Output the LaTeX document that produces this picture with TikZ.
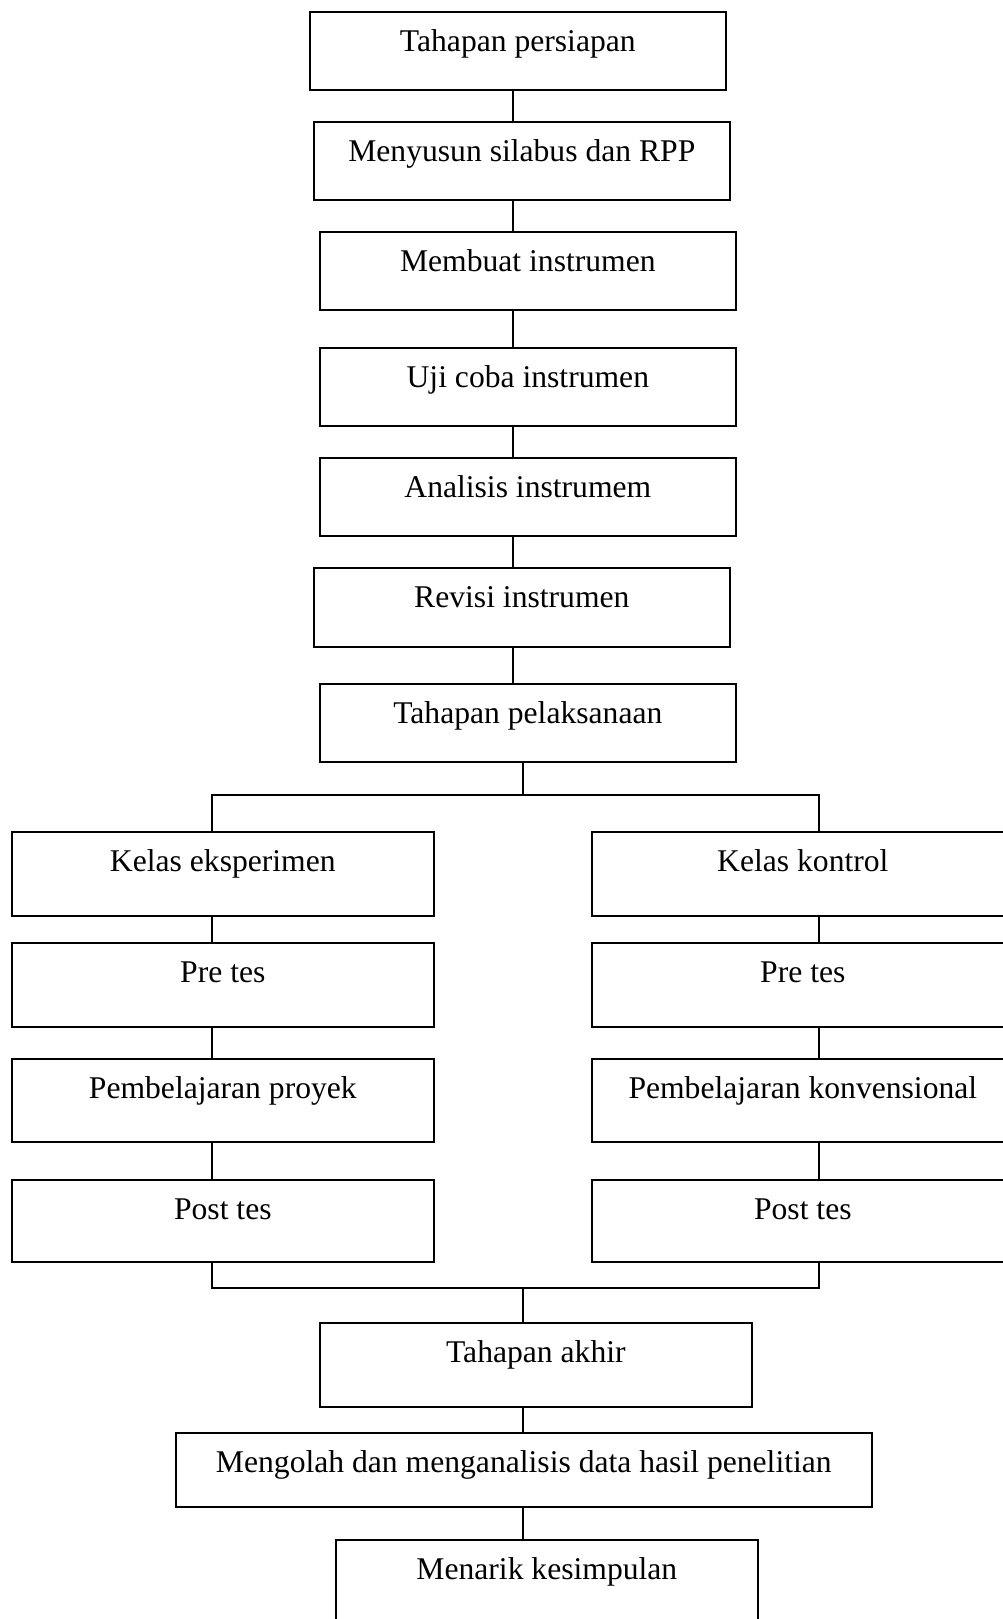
\documentclass[tikz,border=0pt]{standalone}
\usepackage{fontspec}
\setmainfont{Liberation Serif}
\tikzset{
  stage/.style={draw, line width=1pt, anchor=north west, inner sep=0pt,
    text height=0.8cm, font=\fontsize{18}{22}\selectfont},
  link/.style={line width=1pt}
}
\begin{document}
\begin{tikzpicture}[x=0.02cm, y=-0.02cm]
\useasboundingbox (0,0) rectangle (1003,1619);
\clip (0,0) rectangle (1003,1619);
% tahapan persiapan
\node[stage, minimum width=8.32cm, text depth=0.76cm] (persiapan) at (309,11) {Tahapan persiapan};
\node[stage, minimum width=8.32cm, text depth=0.76cm] (silabus) at (313,121) {Menyusun silabus dan RPP};
\node[stage, minimum width=8.32cm, text depth=0.76cm] (membuat) at (319,231) {Membuat instrumen};
\node[stage, minimum width=8.32cm, text depth=0.76cm] (ujicoba) at (319,347) {Uji coba instrumen};
\node[stage, minimum width=8.32cm, text depth=0.76cm] (analisis) at (319,457) {Analisis instrumem};
\node[stage, minimum width=8.32cm, text depth=0.78cm] (revisi) at (313,567) {Revisi instrumen};
\node[stage, minimum width=8.32cm, text depth=0.76cm] (pelaksanaan) at (319,683) {Tahapan pelaksanaan};
\coordinate (spine) at (513,0);
\draw[link] (persiapan.south -| spine) -- (silabus.north -| spine);
\draw[link] (silabus.south -| spine) -- (membuat.north -| spine);
\draw[link] (membuat.south -| spine) -- (ujicoba.north -| spine);
\draw[link] (ujicoba.south -| spine) -- (analisis.north -| spine);
\draw[link] (analisis.south -| spine) -- (revisi.north -| spine);
\draw[link] (revisi.south -| spine) -- (pelaksanaan.north -| spine);
% kelas eksperimen dan kelas kontrol
\node[stage, minimum width=8.44cm, text depth=0.88cm] (eksp) at (11,831) {Kelas eksperimen};
\node[stage, minimum width=8.44cm, text depth=0.88cm] (kontrol) at (591,831) {Kelas kontrol};
\node[stage, minimum width=8.44cm, text depth=0.88cm] (preA) at (11,942) {Pre tes};
\node[stage, minimum width=8.44cm, text depth=0.88cm] (preB) at (591,942) {Pre tes};
\node[stage, minimum width=8.44cm, text depth=0.86cm] (proyek) at (11,1058) {Pembelajaran proyek};
\node[stage, minimum width=8.44cm, text depth=0.86cm] (konv) at (591,1058) {Pembelajaran konvensional};
\node[stage, minimum width=8.44cm, text depth=0.84cm] (postA) at (11,1179) {Post tes};
\node[stage, minimum width=8.44cm, text depth=0.84cm] (postB) at (591,1179) {Post tes};
\coordinate (stem) at (523,0);
\coordinate (colA) at (212,0);
\coordinate (colB) at (819,0);
\coordinate (split) at (523,795);
\coordinate (merge) at (523,1288);
\draw[link] (pelaksanaan.south -| stem) -- (split);
\draw[link] (eksp.north -| colA) |- (split) -| (kontrol.north -| colB);
\draw[link] (eksp.south -| colA) -- (preA.north -| colA);
\draw[link] (preA.south -| colA) -- (proyek.north -| colA);
\draw[link] (proyek.south -| colA) -- (postA.north -| colA);
\draw[link] (kontrol.south -| colB) -- (preB.north -| colB);
\draw[link] (preB.south -| colB) -- (konv.north -| colB);
\draw[link] (konv.south -| colB) -- (postB.north -| colB);
\draw[link] (postA.south -| colA) |- (merge) -| (postB.south -| colB);
% tahapan akhir
\node[stage, minimum width=8.64cm, text depth=0.88cm] (akhir) at (319,1322) {Tahapan akhir};
\node[stage, minimum width=13.92cm, text depth=0.68cm] (olah) at (175,1432) {Mengolah dan menganalisis data hasil penelitian};
\node[stage, minimum width=8.44cm, text depth=1.0cm] (simpul) at (335,1539) {Menarik kesimpulan};
\draw[link] (merge) -- (akhir.north -| stem);
\draw[link] (akhir.south -| stem) -- (olah.north -| stem);
\draw[link] (olah.south -| stem) -- (simpul.north -| stem);
\end{tikzpicture}
\end{document}
